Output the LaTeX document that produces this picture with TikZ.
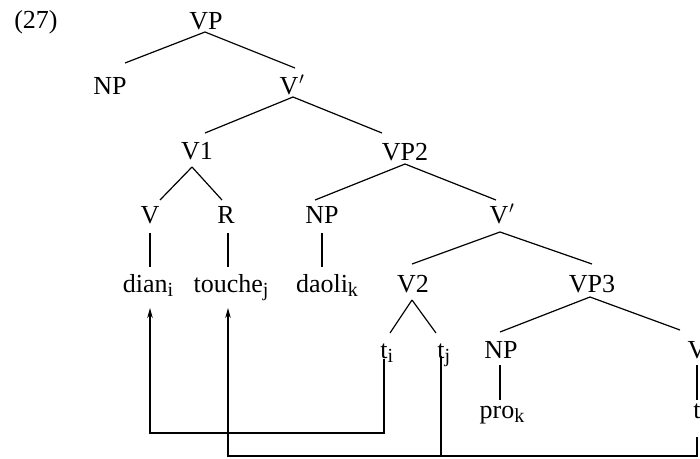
\documentclass[tikz,border=0pt]{standalone}
\usepackage{fontspec}
\setmainfont{Liberation Serif}
\usetikzlibrary{calc,arrows.meta}
\newcommand\sbs[1]{\raisebox{-4.5pt}{\fontsize{20}{20}\selectfont #1}}
\newcommand\pr{\kern0.5pt$'$}
\tikzset{
  lab/.style={font=\fontsize{26}{26}\selectfont, anchor=base, inner sep=0pt},
  br/.style={line width=1.2pt},
  mv/.style={line width=1.2pt, -{Stealth[length=10pt,width=5.5pt]}}
}
\begin{document}
\begin{tikzpicture}[x=1pt,y=-1pt]
\useasboundingbox (0,0) rectangle (700,458);
% labels
\node[lab] (n27) at (36,28) {(27)};
\node[lab] (VP) at (206,29) {VP};
\node[lab] (NPa) at (110,94) {NP};
\node[lab] (Vba) at (292,94) {V\pr};
\node[lab] (Vone) at (197,159) {V1};
\node[lab] (VPtwo) at (405,160) {VP2};
\node[lab] (V) at (150,223) {V};
\node[lab] (R) at (226,223) {R};
\node[lab] (NPb) at (322,223) {NP};
\node[lab] (Vbb) at (502,223) {V\pr};
\node[lab] (dian) at (148,292) {dian\sbs{i}};
\node[lab] (touche) at (231,292) {touche\sbs{j}};
\node[lab] (daoli) at (327,292) {daoli\sbs{k}};
\node[lab] (Vtwo) at (413,292) {V2};
\node[lab] (VPthree) at (592,292) {VP3};
\node[lab] (ti) at (384,358) {t\rlap{\sbs{i}}};
\node[lab] (tj) at (441,358) {t\rlap{\sbs{j}}};
\node[lab] (NPc) at (501,358) {NP};
\node[lab] (Vc) at (697,358) {V};
\node[lab] (pro) at (502,418) {pro\sbs{k}};
\node[lab] (tc) at (697,418) {t};
% branches
\draw[br] ($(VP.base)+(-1,3)$) -- ($(NPa.base)+(15,-31)$);
\draw[br] ($(VP.base)+(-1,3)$) -- ($(Vba.base)+(3,-26)$);
\draw[br] ($(Vba.base)+(1,3)$) -- ($(Vone.base)+(8,-26)$);
\draw[br] ($(Vba.base)+(1,3)$) -- ($(VPtwo.base)+(-23,-27)$);
\draw[br] ($(Vone.base)+(-5,8)$) -- ($(V.base)+(10,-23)$);
\draw[br] ($(Vone.base)+(-5,8)$) -- ($(R.base)+(-4,-23)$);
\draw[br] ($(VPtwo.base)+(0,4)$) -- ($(NPb.base)+(-7,-23)$);
\draw[br] ($(VPtwo.base)+(0,4)$) -- ($(Vbb.base)+(-6,-23)$);
\draw[br] ($(Vbb.base)+(-2,9)$) -- ($(Vtwo.base)+(-1,-28)$);
\draw[br] ($(Vbb.base)+(-2,9)$) -- ($(VPthree.base)+(0,-28)$);
\draw[br] ($(Vtwo.base)+(-1,8)$) -- ($(ti.base)+(6,-25)$);
\draw[br] ($(Vtwo.base)+(-1,8)$) -- ($(tj.base)+(-5,-25)$);
\draw[br] ($(VPthree.base)+(-2,5)$) -- ($(NPc.base)+(-1,-26)$);
\draw[br] ($(VPthree.base)+(-2,5)$) -- ($(Vc.base)+(-17,-28)$);
\draw[br] ($(V.base)+(0,10)$) -- ($(dian.base)+(2,-25)$);
\draw[br] ($(R.base)+(2,10)$) -- ($(touche.base)+(-3,-25)$);
\draw[br] ($(NPb.base)+(0,10)$) -- ($(daoli.base)+(-5,-25)$);
\draw[br] ($(NPc.base)+(-1,7)$) -- ($(pro.base)+(-2,-18)$);
\draw[br] ($(Vc.base)+(0,7)$) -- ($(tc.base)+(0,-18)$);
% movement
\coordinate (m1) at (384,433);
\coordinate (m2) at (150,433);
\coordinate (m3) at (441,456);
\coordinate (m4) at (697,456);
\coordinate (m5) at (228,456);
\draw[mv] ($(ti.base)+(0,1)$) -- (m1) -- (m2) -- ($(dian.base)+(2,16)$);
\draw[br] ($(tj.base)+(0,-2)$) -- (m3);
\draw[mv] ($(tc.base)+(0,19)$) -- (m4) -- (m5) -- ($(touche.base)+(-3,16)$);
\end{tikzpicture}
\end{document}
